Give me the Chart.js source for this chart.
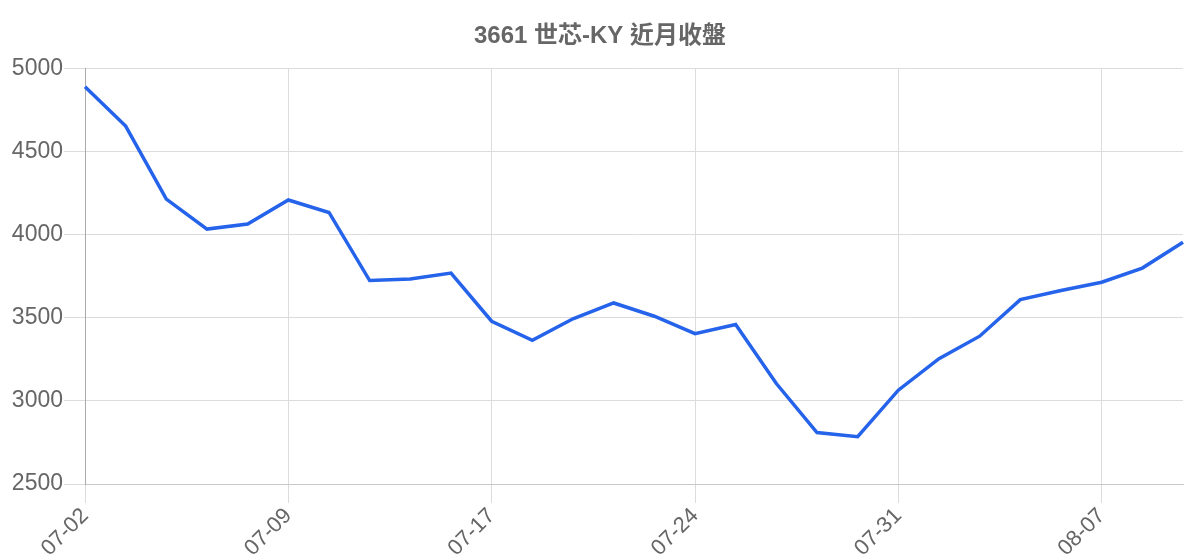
<!DOCTYPE html>
<html>
<head>
<meta charset="utf-8">
<script src="https://cdn.jsdelivr.net/npm/chart.js@4"></script>
<style>
  html, body { margin: 0; padding: 0; background: #fff; }
  #wrap { width: 1200px; height: 560px; }
</style>
</head>
<body>
<div id="wrap"><canvas id="chart"></canvas></div>
<script>
const titleText = "3661 世芯-KY 近月收盤";

const dates = [
  "07-02", "07-03", "07-04", "07-07", "07-08",
  "07-09", "07-10", "07-11", "07-14", "07-15",
  "07-17", "07-18", "07-21", "07-22", "07-23",
  "07-24", "07-25", "07-28", "07-29", "07-30",
  "07-31", "08-01", "08-04", "08-05", "08-06",
  "08-07", "08-08", "08-11"
];

const closes = [
  4892, 4655, 4215, 4035, 4065,
  4210, 4135, 3725, 3735, 3770,
  3480, 3365, 3495, 3590, 3510,
  3405, 3460, 3105, 2810, 2785,
  3065, 3255, 3390, 3610, 3665,
  3715, 3800, 3955
];

const yMin = 2500;
const yMax = 5000;
const yStep = 500;

const fontFamily = "'Liberation Sans', Arial, 'Noto Sans CJK TC', sans-serif";

/* Chart */
const ctx = document.getElementById("chart").getContext("2d");

new Chart(ctx, {
  type: "line",
  data: {
    labels: dates,
    datasets: [{
      label: "收盤",
      data: closes,
      borderColor: "#2563eb",
      borderWidth: 3.5,
      pointRadius: 0,
      tension: 0,
      fill: false
    }]
  },
  options: {
    responsive: true,
    maintainAspectRatio: false,
    animation: false,
    layout: { padding: { top: 12, right: 0, left: 0, bottom: 0 } },
    plugins: {
      legend: { display: false },
      tooltip: { enabled: false },
      title: {
        display: true,
        text: titleText,
        color: "#666",
        font: { family: fontFamily, size: 24, weight: "bold" },
        padding: { top: 10, bottom: 18 }
      }
    },
    scales: {
      x: {
        grid: { color: "#dcdcdc", tickLength: 19 },
        border: { color: "#c8c8c8" },
        ticks: {
          color: "#666",
          font: { family: fontFamily, size: 22 },
          maxRotation: 45,
          minRotation: 45,
          autoSkip: true,
          maxTicksLimit: 6,
          padding: 0
        },
        afterFit: scale => {
          scale.height = 76;
          scale.paddingRight = 17;
        }
      },
      y: {
        min: yMin,
        max: yMax,
        grid: { color: "#dcdcdc", tickLength: 21 },
        border: { color: "#aaaaaa" },
        ticks: {
          stepSize: yStep,
          color: "#666",
          font: { family: fontFamily, size: 23 },
          padding: 1,
          callback: v => String(v)
        },
        afterFit: scale => { scale.width = 85; }
      }
    }
  }
});
</script>
</body>
</html>
